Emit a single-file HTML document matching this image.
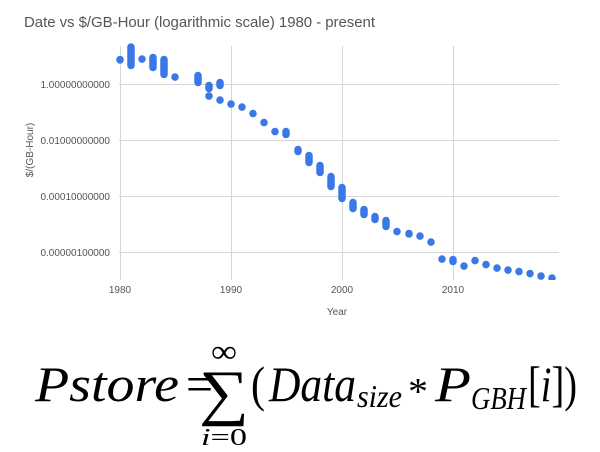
<!DOCTYPE html>
<html><head><meta charset="utf-8"><style>
html,body{margin:0;padding:0;background:#fff;width:600px;height:452px;overflow:hidden}
</style></head><body>
<svg width="600" height="452" viewBox="0 0 600 452" xmlns="http://www.w3.org/2000/svg">
<text x="24" y="27" font-family="Liberation Sans, sans-serif" font-size="15" fill="#555" textLength="351">Date vs $/GB-Hour (logarithmic scale) 1980 - present</text>
<g stroke="#d6d6d6" stroke-width="1">
<line x1="119" y1="84.5" x2="559" y2="84.5"/>
<line x1="119" y1="140.5" x2="559" y2="140.5"/>
<line x1="119" y1="196.5" x2="559" y2="196.5"/>
<line x1="119" y1="252.5" x2="559" y2="252.5"/>
<line x1="120.5" y1="46" x2="120.5" y2="280"/>
<line x1="231.5" y1="46" x2="231.5" y2="280"/>
<line x1="342.5" y1="46" x2="342.5" y2="280"/>
<line x1="453.5" y1="46" x2="453.5" y2="280"/>
</g>
<g font-family="Liberation Sans, sans-serif" font-size="10" fill="#555" text-anchor="end">
<text x="110" y="88">1.00000000000</text>
<text x="110" y="144">0.01000000000</text>
<text x="110" y="200">0.00010000000</text>
<text x="110" y="256">0.00000100000</text>
</g>
<g font-family="Liberation Sans, sans-serif" font-size="10" fill="#555" text-anchor="middle">
<text x="120" y="293">1980</text>
<text x="231" y="293">1990</text>
<text x="342" y="293">2000</text>
<text x="453" y="293">2010</text>
<text x="337" y="315">Year</text>
<text transform="translate(33,150) rotate(-90)">$/(GB-Hour)</text>
</g>
<defs><clipPath id="c"><rect x="100" y="40" width="470" height="240"/></clipPath></defs>
<g clip-path="url(#c)" stroke="#3b78e7" stroke-width="7.5" stroke-linecap="round" fill="none">
<line x1="120" y1="59.5" x2="120" y2="60"/>
<line x1="131" y1="47" x2="131" y2="65.5"/>
<line x1="142" y1="59" x2="142" y2="59.1"/>
<line x1="153" y1="57.5" x2="153" y2="67.5"/>
<line x1="164" y1="59.5" x2="164" y2="74.5"/>
<line x1="175" y1="77" x2="175" y2="77.1"/>
<line x1="198" y1="75.5" x2="198" y2="82.5"/>
<line x1="209" y1="85.5" x2="209" y2="88.5"/>
<line x1="209" y1="96" x2="209" y2="96.1"/>
<line x1="220" y1="82.5" x2="220" y2="85.5"/>
<line x1="220" y1="100" x2="220" y2="100.1"/>
<line x1="231" y1="104" x2="231" y2="104.1"/>
<line x1="242" y1="107" x2="242" y2="107.1"/>
<line x1="253" y1="113.5" x2="253" y2="113.6"/>
<line x1="264" y1="122.5" x2="264" y2="122.6"/>
<line x1="275" y1="131.5" x2="275" y2="131.6"/>
<line x1="286" y1="131.5" x2="286" y2="134.5"/>
<line x1="298" y1="149.5" x2="298" y2="151.5"/>
<line x1="309" y1="155.5" x2="309" y2="162.5"/>
<line x1="320" y1="165.5" x2="320" y2="172.5"/>
<line x1="331" y1="176.5" x2="331" y2="186.5"/>
<line x1="342" y1="187.5" x2="342" y2="198.5"/>
<line x1="353" y1="202.5" x2="353" y2="208.5"/>
<line x1="364" y1="209.5" x2="364" y2="214.5"/>
<line x1="375" y1="216.5" x2="375" y2="219.5"/>
<line x1="386" y1="220.5" x2="386" y2="226.5"/>
<line x1="397" y1="231.5" x2="397" y2="231.6"/>
<line x1="409" y1="233.5" x2="409" y2="234"/>
<line x1="420" y1="236" x2="420" y2="236.1"/>
<line x1="431" y1="242" x2="431" y2="242.1"/>
<line x1="442" y1="259" x2="442" y2="259.1"/>
<line x1="453" y1="259.5" x2="453" y2="261.5"/>
<line x1="464" y1="266" x2="464" y2="266.1"/>
<line x1="475" y1="260.5" x2="475" y2="260.6"/>
<line x1="486" y1="264.5" x2="486" y2="264.6"/>
<line x1="497" y1="268" x2="497" y2="268.1"/>
<line x1="508" y1="270" x2="508" y2="270.1"/>
<line x1="519" y1="271.5" x2="519" y2="271.6"/>
<line x1="530" y1="273.5" x2="530" y2="273.6"/>
<line x1="541" y1="276" x2="541" y2="276.1"/>
<line x1="552" y1="278" x2="552" y2="278.1"/>
</g>
<g font-family="Liberation Serif, serif" fill="#000">
<text x="35" y="401" font-size="50" font-style="italic" textLength="144" lengthAdjust="spacingAndGlyphs">Pstore</text>
<text x="186" y="401" font-size="50" textLength="27" lengthAdjust="spacingAndGlyphs">=</text>
<text x="199" y="413" font-size="62" textLength="50" lengthAdjust="spacingAndGlyphs">∑</text>
<text x="211" y="362" font-size="32" textLength="26" lengthAdjust="spacingAndGlyphs">∞</text>
<text x="201" y="445" font-size="24" textLength="46" lengthAdjust="spacingAndGlyphs"><tspan font-style="italic">i</tspan>=0</text>
<text x="251" y="401" font-size="50" textLength="14" lengthAdjust="spacingAndGlyphs">(</text>
<text x="269" y="401" font-size="50" font-style="italic" textLength="87" lengthAdjust="spacingAndGlyphs">Data</text>
<text x="357" y="407" font-size="32" font-style="italic" textLength="45" lengthAdjust="spacingAndGlyphs">size</text>
<text x="408" y="404" font-size="38" textLength="20" lengthAdjust="spacingAndGlyphs">*</text>
<text x="435" y="401" font-size="50" font-style="italic" textLength="36" lengthAdjust="spacingAndGlyphs">P</text>
<text x="471" y="409" font-size="32" font-style="italic" textLength="55" lengthAdjust="spacingAndGlyphs">GBH</text>
<text x="528" y="401" font-size="50" textLength="49" lengthAdjust="spacingAndGlyphs">[<tspan font-style="italic">i</tspan>])</text>
</g>
</svg>
</body></html>
